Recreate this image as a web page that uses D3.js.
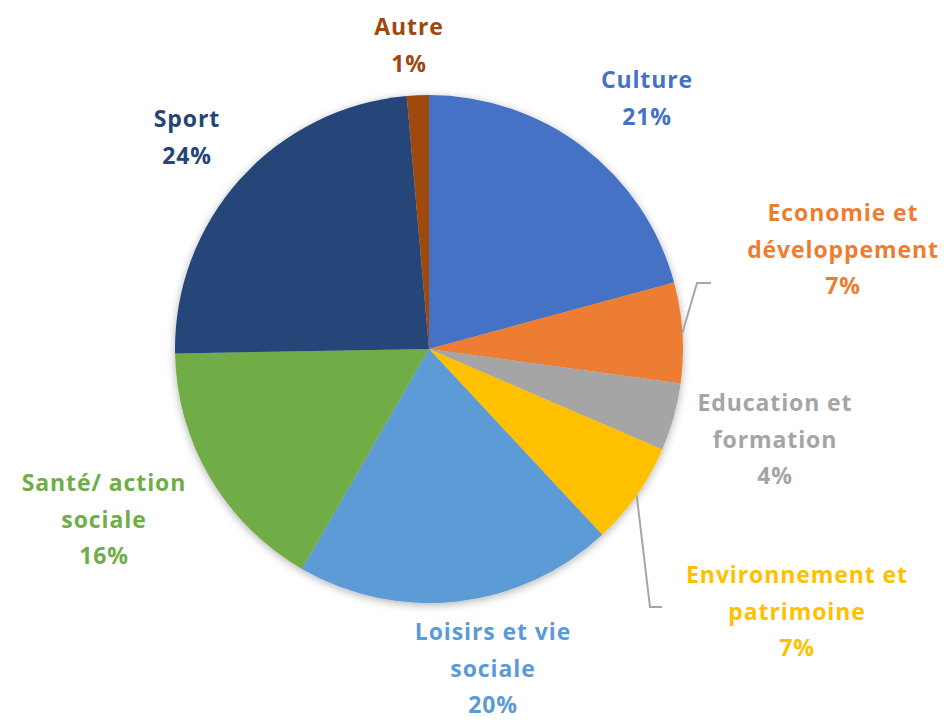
<!DOCTYPE html>
<html lang="fr">
<head>
<meta charset="utf-8">
<script src="https://cdn.jsdelivr.net/npm/d3@7"></script>
<style>
  body { margin: 0; background: #fff; }
  svg text { font-family: "Open Sans", Lato, sans-serif; font-weight: 700; font-size: 23px; letter-spacing: 0.9px; }
</style>
</head>
<body>
<svg id="chart" width="944" height="720"></svg>
<script>
// domaines d'activité, in clockwise order starting at 12 o'clock
const categories = ["Culture", "Economie et développement", "Education et formation",
  "Environnement et patrimoine", "Loisirs et vie sociale", "Santé/ action sociale", "Sport", "Autre"];
const values = [20.8, 6.4, 4.3, 6.6, 20.3, 16.4, 23.9, 1.4];
const pctLabels = ["21%", "7%", "4%", "7%", "20%", "16%", "24%", "1%"];
const labelLines = [["Culture"], ["Economie et", "développement"], ["Education et", "formation"],
  ["Environnement et", "patrimoine"], ["Loisirs et vie", "sociale"], ["Santé/ action", "sociale"],
  ["Sport"], ["Autre"]];
const colors = ["#4472C4", "#ED7D31", "#A5A5A5", "#FFC000", "#5B9BD5", "#70AD47", "#264478", "#9E480E"];

// where each label block sits (centre x, first line baseline y)
const labelPos = [[647, 88], [843, 221], [775, 411], [797, 583], [493, 640], [104, 491], [187, 127], [409, 35]];
// leader line elbows: [elbow, end] for the slices that need one
const leaders = { 1: [[697, 283], [711, 283]], 3: [[650, 607], [662, 607]] };

const cx = 429, cy = 349, r = 254;
const svg = d3.select("#chart");

const defs = svg.append("defs");
const f = defs.append("filter").attr("id", "shadow")
  .attr("x", "-10%").attr("y", "-10%").attr("width", "120%").attr("height", "120%");
f.append("feDropShadow").attr("dx", 0).attr("dy", 2).attr("stdDeviation", 4)
  .attr("flood-color", "#000").attr("flood-opacity", 0.3);

const pie = d3.pie().sort(null).value(d => d);
const arcs = pie(values);
const arc = d3.arc().innerRadius(0).outerRadius(r);
const edge = d3.arc().innerRadius(r).outerRadius(r);

const g = svg.append("g").attr("transform", `translate(${cx},${cy})`);
g.append("g").attr("filter", "url(#shadow)")
  .selectAll("path")
  .data(arcs).enter()
  .append("path")
  .attr("d", arc)
  .attr("fill", (d, i) => colors[i]);

// leader lines from slice edge
Object.keys(leaders).forEach(k => {
  const i = +k;
  const [ex, ey] = edge.centroid(arcs[i]);
  const pts = [[cx + ex, cy + ey], ...leaders[k]];
  svg.append("path")
    .attr("d", d3.line()(pts))
    .attr("fill", "none")
    .attr("stroke", "#A6A6A6")
    .attr("stroke-width", 2);
});

// labels
const lbl = svg.selectAll("text.lbl")
  .data(categories).enter()
  .append("text")
  .attr("class", "lbl")
  .attr("text-anchor", "middle")
  .attr("fill", (d, i) => colors[i])
  .attr("x", (d, i) => labelPos[i][0])
  .attr("y", (d, i) => labelPos[i][1]);

lbl.each(function(d, i) {
  const t = d3.select(this);
  const lines = labelLines[i].concat([pctLabels[i]]);
  lines.forEach((s, j) => {
    t.append("tspan")
      .attr("x", labelPos[i][0])
      .attr("dy", j === 0 ? 0 : 36.5)
      .text(s);
  });
});
</script>
</body>
</html>
